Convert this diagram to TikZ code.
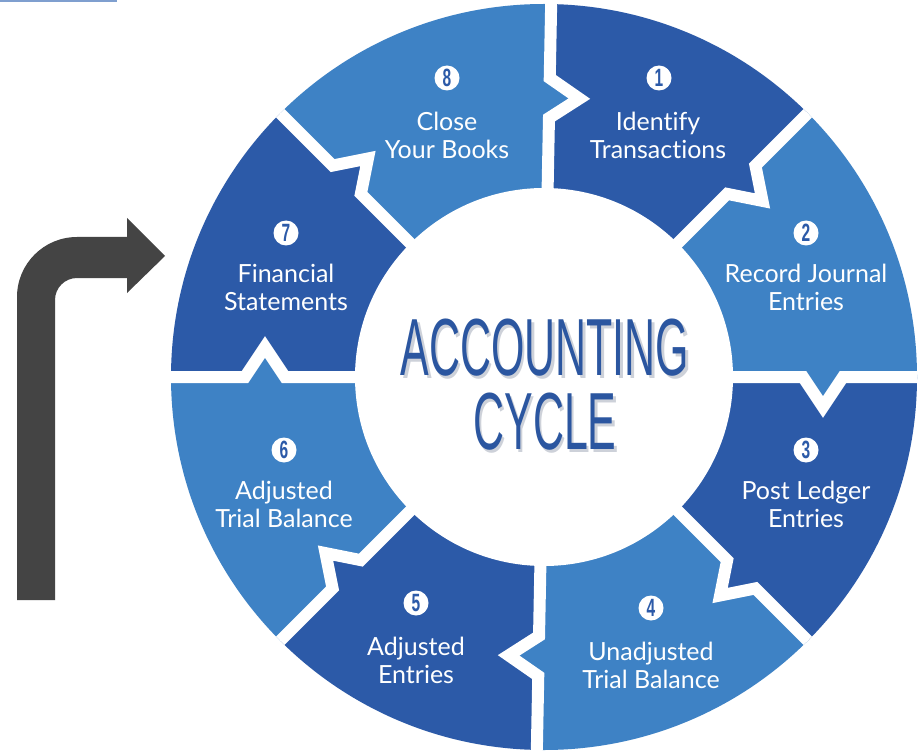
\documentclass[tikz,border=0pt]{standalone}
\usepackage{fontspec}
\setmainfont{Lato}[Ligatures={NoCommon,NoRequired,NoContextual}]
\newfontfamily\headfont{Liberation Sans}
\definecolor{segdark}{HTML}{2C5AA8}
\definecolor{seglight}{HTML}{3E82C5}
\definecolor{arrowgray}{HTML}{444444}
\definecolor{titleblue}{HTML}{2B56A0}
\definecolor{shadowgray}{HTML}{CDD1D9}
\definecolor{topline}{HTML}{7F9FCF}
\begin{document}
\begin{tikzpicture}[x=0.5pt,y=-0.5pt,
  gapline/.style={draw=white,line width=6pt,line join=miter},
  numdot/.style={circle,fill=white,minimum size=12.5pt,inner sep=0pt,font=\headfont\bfseries\fontsize{12.5}{12.5}\selectfont},
  steplabel/.style={text=white,align=center,inner sep=0pt,font=\fontsize{12.5}{14}\selectfont},
  titletext/.style={inner sep=0pt,font=\headfont\fontsize{40.5}{40.5}\selectfont}
 ]
\useasboundingbox (0,0) rectangle (920,754);
\fill[white] (0,0) rectangle (920,754);
\draw[topline,line width=1pt] (0,1) -- (117,1);
% bent arrow
\fill[arrowgray] (17,600) -- (17,297) arc[start angle=180, end angle=270, radius=60]
  -- (127,237) -- (127,218) -- (165,256) -- (127,293) -- (127,278) -- (77,278)
  arc[start angle=270, end angle=180, radius=22] -- (55,600) -- cycle;
% ring
\begin{scope}[shift={(544,377)}]
\begin{scope}
\clip (0,0) circle[radius=373];
\foreach \a/\b/\c in {-88.9/-45/segdark,-45/0/seglight,0/45/segdark,45/91.1/seglight,91.1/135/segdark,135/180/seglight,180/225/segdark,225/271.1/seglight} {
  \pgfmathsetmacro\m{(\a+\b)/2}
  \pgfmathsetmacro\tax{279*cos(\a)-30*sin(\a)}
  \pgfmathsetmacro\tay{279*sin(\a)+30*cos(\a)}
  \pgfmathsetmacro\tbx{279*cos(\b)-30*sin(\b)}
  \pgfmathsetmacro\tby{279*sin(\b)+30*cos(\b)}
  \fill[\c] (0,0) -- (\a:259) -- (\tax,\tay) -- (\a:299) -- (\a:420) -- (\m:620)
    -- (\b:420) -- (\b:299) -- (\tbx,\tby) -- (\b:259) -- cycle;
}
\foreach \a in {-88.9,-45,0,45,91.1,135,180,225} {
  \pgfmathsetmacro\tax{279*cos(\a)-30*sin(\a)}
  \pgfmathsetmacro\tay{279*sin(\a)+30*cos(\a)}
  \draw[gapline] (\a:150) -- (\a:259) -- (\tax,\tay) -- (\a:299) -- (\a:420);
}
\end{scope}
\fill[white] (0,0) circle[radius=189];
\end{scope}
% title
\node[titletext,text=shadowgray] (sh1) at (547.5,350.5) {\scalebox{0.53}[1]{ACCOUNTING}};
\node[titletext,text=shadowgray] (sh2) at (547.5,424.5) {\scalebox{0.53}[1]{CYCLE}};
\node[titletext,text=titleblue] (title1) at (545,348) {\scalebox{0.53}[1]{ACCOUNTING}};
\node[titletext,text=titleblue] (title2) at (545,422) {\scalebox{0.53}[1]{CYCLE}};
% numbers
\node[numdot,text=segdark] (n1) at (659,78) {\scalebox{0.62}[1]{1}};
\node[numdot,text=segdark] (n2) at (806,233) {\scalebox{0.62}[1]{2}};
\node[numdot,text=segdark] (n3) at (806,450) {\scalebox{0.62}[1]{3}};
\node[numdot,text=segdark] (n4) at (651,608) {\scalebox{0.62}[1]{4}};
\node[numdot,text=segdark] (n5) at (416,603) {\scalebox{0.62}[1]{5}};
\node[numdot,text=segdark] (n6) at (284,450) {\scalebox{0.62}[1]{6}};
\node[numdot,text=segdark] (n7) at (286,233) {\scalebox{0.62}[1]{7}};
\node[numdot,text=segdark] (n8) at (447,78) {\scalebox{0.62}[1]{8}};
% labels
\node[steplabel] (t1) at (658,135) {Identify\\Transactions};
\node[steplabel] (t2) at (806,287) {Record Journal\\Entries};
\node[steplabel] (t3) at (806,504) {Post Ledger\\Entries};
\node[steplabel] (t4) at (651,665) {Unadjusted\\Trial Balance};
\node[steplabel] (t5) at (416,660) {Adjusted\\Entries};
\node[steplabel] (t6) at (284,504) {Adjusted\\Trial Balance};
\node[steplabel] (t7) at (286,287) {Financial\\Statements};
\node[steplabel] (t8) at (447,135) {Close\\Your Books};
\end{tikzpicture}
\end{document}
